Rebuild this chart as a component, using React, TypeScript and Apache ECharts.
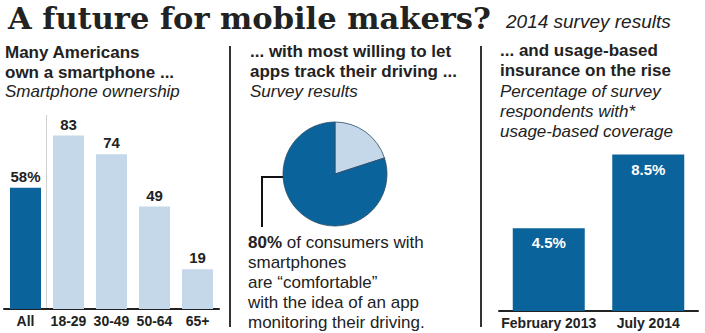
import React, { useEffect, useRef } from "react";
import * as echarts from "echarts";

const ageCategories = ["All", "18-29", "30-49", "50-64", "65+"];
const ownershipValues = [58, 83, 74, 49, 19];
const comfortLabels = ["Not comfortable", "Comfortable"];
const comfortValues = [20, 80];
const insurancePeriods = ["February 2013", "July 2014"];
const insuranceValues = [4.5, 8.5];

const DARK = "#0b639b";
const LIGHT = "#c4d8e9";
const INK = "#222222";
const SANS = "'Liberation Sans', Arial, Helvetica, sans-serif";

function txt(x: number, y: number, text: string, opts: any = {}) {
  return {
    type: "text",
    x,
    y,
    silent: true,
    style: {
      text,
      fill: INK,
      fontFamily: SANS,
      fontSize: 17,
      verticalAlign: "middle",
      align: "left",
      ...opts,
    },
  };
}

export default function App() {
  const ref = useRef<HTMLDivElement>(null);
  useEffect(() => {
    if (!ref.current) return;
    const chart = echarts.init(ref.current, null, { renderer: "svg" });
    const axisLabel = {
      color: INK,
      fontWeight: "bold",
      fontSize: 14,
      fontFamily: SANS,
      margin: 5,
      interval: 0,
      hideOverlap: false,
    };
    chart.setOption({
      animation: false,
      backgroundColor: "#ffffff",
      grid: [
        { left: 4, width: 215, top: 100, height: 209 },
        { left: 499, width: 199, top: 127, height: 184 },
      ],
      xAxis: [
        {
          type: "category",
          gridIndex: 0,
          data: ageCategories,
          axisLine: { lineStyle: { color: INK, width: 2 } },
          axisTick: { show: false },
          axisLabel,
        },
        {
          type: "category",
          gridIndex: 1,
          data: insurancePeriods,
          axisLine: { lineStyle: { color: INK, width: 2 } },
          axisTick: { show: false },
          axisLabel,
        },
      ],
      yAxis: [
        { type: "value", gridIndex: 0, min: 0, max: 100, show: false, splitLine: { show: false } },
        { type: "value", gridIndex: 1, min: 0, max: 10, show: false, splitLine: { show: false } },
      ],
      series: [
        {
          type: "bar",
          xAxisIndex: 0,
          yAxisIndex: 0,
          barWidth: 31,
          data: ownershipValues.map((v, i) => ({
            value: v,
            itemStyle: { color: i === 0 ? DARK : LIGHT },
          })),
          label: {
            show: true,
            position: "top",
            distance: 4,
            color: INK,
            fontWeight: "bold",
            fontSize: 15,
            fontFamily: SANS,
            formatter: (p: any) => (p.dataIndex === 0 ? p.value + "%" : String(p.value)),
          },
        },
        {
          type: "bar",
          xAxisIndex: 1,
          yAxisIndex: 1,
          barWidth: 72,
          data: insuranceValues,
          itemStyle: { color: DARK },
          label: {
            show: true,
            position: "insideTop",
            distance: 7,
            color: "#ffffff",
            fontWeight: "bold",
            fontSize: 15,
            fontFamily: SANS,
            formatter: (p: any) => p.value + "%",
          },
        },
        {
          type: "pie",
          center: [335, 174],
          radius: 52,
          startAngle: 90,
          clockwise: true,
          silent: true,
          label: { show: false },
          labelLine: { show: false },
          itemStyle: { borderColor: "#2d4a63", borderWidth: 0.8 },
          data: comfortValues.map((v, i) => ({
            name: comfortLabels[i],
            value: v,
            itemStyle: { color: i === 0 ? LIGHT : DARK },
          })),
        },
      ],
      graphic: [
        {
          type: "text",
          x: 8,
          y: 18,
          silent: true,
          style: {
            text: "A future for mobile makers?",
            fill: INK,
            fontFamily: "'DejaVu Serif', serif",
            fontWeight: "bold",
            fontSize: 30.5,
            verticalAlign: "middle",
          },
        },
        txt(506, 21, "2014 survey results", { fontStyle: "italic", fontSize: 19 }),
        // left panel
        txt(5, 52, "Many Americans", { fontWeight: "bold" }),
        txt(5, 72, "own a smartphone ...", { fontWeight: "bold" }),
        txt(5, 91, "Smartphone ownership", { fontStyle: "italic" }),
        // middle panel
        txt(250, 51, "... with most willing to let", { fontWeight: "bold" }),
        txt(250, 71, "apps track their driving ...", { fontWeight: "bold" }),
        txt(250, 91, "Survey results", { fontStyle: "italic" }),
        // right panel
        txt(500, 50, "... and usage-based", { fontWeight: "bold" }),
        txt(500, 70, "insurance on the rise", { fontWeight: "bold" }),
        txt(500, 91, "Percentage of survey", { fontStyle: "italic" }),
        txt(500, 111, "respondents with*", { fontStyle: "italic" }),
        txt(500, 131, "usage-based coverage", { fontStyle: "italic" }),
        // separators
        { type: "line", silent: true, shape: { x1: 230, y1: 46, x2: 230, y2: 327 }, style: { stroke: "#333", lineWidth: 2 } },
        { type: "line", silent: true, shape: { x1: 481, y1: 46, x2: 481, y2: 327 }, style: { stroke: "#333", lineWidth: 2 } },
        // light divider in left chart
        { type: "line", silent: true, shape: { x1: 46.5, y1: 115, x2: 46.5, y2: 308 }, style: { stroke: "#d0d0d0", lineWidth: 1 } },
        // pie leader
        {
          type: "polyline",
          silent: true,
          shape: { points: [[288, 177], [262, 177], [262, 227]] },
          style: { stroke: "#111", lineWidth: 2, fill: "none" },
        },
        {
          type: "text",
          x: 248,
          y: 232,
          silent: true,
          style: {
            text:
              "{b|80%} of consumers with\nsmartphones\nare \u201ccomfortable\u201d\nwith the idea of an app\nmonitoring their driving.",
            fill: INK,
            fontFamily: SANS,
            fontSize: 17,
            lineHeight: 20,
            verticalAlign: "top",
            rich: {
              b: { fontWeight: "bold", fontSize: 17, fontFamily: SANS, fill: INK, lineHeight: 20 },
            },
          },
        },
      ],
    });
    return () => chart.dispose();
  }, []);
  return (
    <div
      ref={ref}
      style={{ position: "fixed", left: 0, top: 0, width: 705, height: 333, background: "#fff" }}
    />
  );
}
